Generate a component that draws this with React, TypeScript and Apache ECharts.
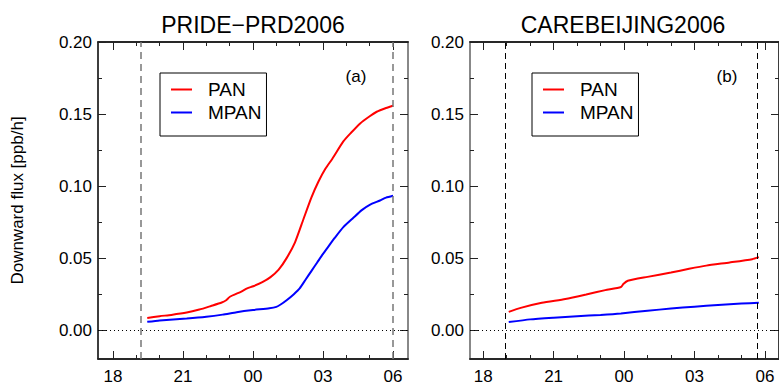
import React, { useEffect, useRef } from "react";
import * as echarts from "echarts";

// Hour-of-day ticks (values past 24 wrap to the next morning)
const hourMajor = [18, 21, 24, 27, 30];
const hourMinor = [19, 20, 22, 23, 25, 26, 28, 29];
const fluxMajor = [0, 0.05, 0.1, 0.15, 0.2];
const fluxMinor = [0.025, 0.075, 0.125, 0.175];

// PRIDE-PRD2006 night-time downward flux
const prdPanHours = [19.47, 20.0, 20.5, 21.16, 21.7, 22.2, 22.66, 22.85, 23.01, 23.5, 23.75, 24.01, 24.4, 24.75, 25.1, 25.44, 25.8, 26.16, 26.5, 26.8, 27.1, 27.4, 27.87, 28.2, 28.59, 29.0, 29.3, 29.7, 30.0];
const prdPanFlux = [0.0085, 0.0097, 0.0106, 0.0122, 0.0143, 0.0168, 0.0192, 0.0208, 0.0232, 0.0268, 0.029, 0.0305, 0.0333, 0.0368, 0.042, 0.05, 0.061, 0.077, 0.092, 0.103, 0.112, 0.119, 0.131, 0.137, 0.1435, 0.1485, 0.1516, 0.1542, 0.1558];
const prdMpanHours = [19.47, 20.0, 21.16, 22.0, 22.7, 23.3, 24.0, 24.7, 25.0, 25.2, 25.44, 25.75, 26.0, 26.25, 26.5, 26.75, 27.0, 27.25, 27.5, 27.87, 28.3, 28.66, 29.0, 29.44, 29.7, 30.0];
const prdMpanFlux = [0.0058, 0.0068, 0.0081, 0.0093, 0.0108, 0.0125, 0.014, 0.0152, 0.0162, 0.018, 0.0208, 0.025, 0.029, 0.035, 0.041, 0.047, 0.053, 0.0585, 0.064, 0.0715, 0.078, 0.0833, 0.087, 0.09, 0.092, 0.0933];

// CAREBEIJING2006 night-time downward flux
const bjPanHours = [19.09, 19.6, 20.5, 21.5, 22.39, 23.2, 23.87, 23.97, 24.16, 25.0, 26.0, 26.77, 27.5, 28.5, 29.46, 29.74];
const bjPanFlux = [0.0127, 0.0155, 0.019, 0.0217, 0.0248, 0.0278, 0.03, 0.032, 0.0343, 0.037, 0.04, 0.0426, 0.0448, 0.047, 0.0493, 0.0507];
const bjMpanHours = [19.09, 20.0, 21.0, 22.0, 23.0, 23.87, 25.0, 26.0, 27.0, 28.0, 29.0, 29.74];
const bjMpanFlux = [0.0056, 0.0075, 0.0087, 0.0097, 0.0106, 0.0116, 0.0135, 0.015, 0.0163, 0.0175, 0.0185, 0.019];

// Nighttime window boundaries drawn as dashed verticals
const prdNight = [19.2, 30.0];
const bjNight = [18.92, 29.67];

const FONT = "'Liberation Sans', Arial, Helvetica, sans-serif";

const zip = (xs: number[], ys: number[]) => xs.map((x, i) => [x, ys[i]]);
const hourLabel = (v: number) => String(((Math.round(v) % 24) + 24) % 24).padStart(2, "0");

export default function App() {
  const ref = useRef<HTMLDivElement>(null);

  useEffect(() => {
    if (!ref.current) return;
    const chart = echarts.init(ref.current, undefined, { renderer: "svg" });

    const panels = [
      { left: 98, top: 42, width: 310, height: 317, xMin: 17.36, xMax: 30.64, leftColor: "#222", leftWidth: 1.5, rightColor: "#888", rightWidth: 2 },
      { left: 470, top: 42, width: 310, height: 317, xMin: 17.44, xMax: 30.6, leftColor: "#888", leftWidth: 2, rightColor: "#222", rightWidth: 1.5 },
    ];

    // Grids 0/1 carry the framed axes with major ticks; grids 2/3 overlay them with minor ticks only.
    const grid = [
      ...panels.map((p) => ({ left: p.left, top: p.top, width: p.width, height: p.height, show: true, borderColor: "#222", borderWidth: 1, backgroundColor: "transparent" })),
      ...panels.map((p) => ({ left: p.left, top: p.top, width: p.width, height: p.height })),
    ];

    const tick = (vals: number[], len: number) => ({
      show: true, inside: true, length: len, customValues: vals, lineStyle: { color: "#222", width: 1 },
    });
    const line = (show: boolean, color = "#222", width = 1.5) => ({ show, onZero: false, lineStyle: { color, width } });
    const noLabel = { show: false };

    const xAxis: any[] = [];
    const yAxis: any[] = [];
    panels.forEach((p, gi) => {
      const base = { type: "value", gridIndex: gi, min: p.xMin, max: p.xMax, splitLine: { show: false } };
      xAxis.push({
        ...base, position: "bottom", axisLine: line(true), axisTick: tick(hourMajor, 8),
        axisLabel: { show: true, customValues: hourMajor, formatter: hourLabel, margin: 9, color: "#000", fontSize: 17, fontFamily: FONT },
      });
      xAxis.push({ ...base, position: "top", axisLine: line(true), axisTick: tick(hourMajor, 8), axisLabel: noLabel });

      const ybase = { type: "value", gridIndex: gi, min: -0.02, max: 0.2, splitLine: { show: false } };
      yAxis.push({
        ...ybase, position: "left", axisLine: line(true, p.leftColor, p.leftWidth), axisTick: tick(fluxMajor, 8),
        axisLabel: { show: true, customValues: fluxMajor, formatter: (v: number) => v.toFixed(2), margin: 6, color: "#000", fontSize: 17, fontFamily: FONT },
        ...(gi === 0
          ? { name: "Downward flux [ppb/h]", nameLocation: "middle", nameRotate: 90, nameGap: 72, nameTextStyle: { fontSize: 17, fontFamily: FONT, color: "#000" } }
          : {}),
      });
      yAxis.push({ ...ybase, position: "right", axisLine: line(true, p.rightColor, p.rightWidth), axisTick: tick(fluxMajor, 8), axisLabel: noLabel });
    });
    panels.forEach((p, gi) => {
      const base = { type: "value", gridIndex: gi + 2, min: p.xMin, max: p.xMax, splitLine: { show: false } };
      xAxis.push({ ...base, position: "bottom", axisLine: line(true), axisTick: tick(hourMinor, 4), axisLabel: noLabel });
      xAxis.push({ ...base, position: "top", axisLine: line(true), axisTick: tick(hourMinor, 4), axisLabel: noLabel });
      const ybase = { type: "value", gridIndex: gi + 2, min: -0.02, max: 0.2, splitLine: { show: false } };
      yAxis.push({ ...ybase, position: "left", axisLine: line(false), axisTick: tick(fluxMinor, 4), axisLabel: noLabel });
      yAxis.push({ ...ybase, position: "right", axisLine: line(false), axisTick: tick(fluxMinor, 4), axisLabel: noLabel });
    });

    const zeroLine = { yAxis: 0, lineStyle: { type: [1, 3], color: "#000", width: 1 } };
    const nightLines = (vals: number[], color: string, dash: number[], width: number) =>
      vals.map((v) => ({ xAxis: v, lineStyle: { type: dash, color, width } }));

    const lineSeries = (name: string, gi: number, data: number[][], color: string, extra: any = {}) => ({
      name, type: "line", xAxisIndex: gi * 2, yAxisIndex: gi * 2, data,
      showSymbol: false, symbol: "none", smooth: 0.2, color,
      lineStyle: { color, width: 2 }, itemStyle: { color },
      ...extra,
    });

    const markLineFor = (vals: number[], color: string, dash: number[], width: number) => ({
      markLine: {
        silent: true, symbol: "none", label: { show: false },
        data: [zeroLine, ...nightLines(vals, color, dash, width)],
      },
    });

    const legendBase = {
      orient: "vertical", top: 73, data: ["PAN", "MPAN"],
      icon: "rect", itemWidth: 21, itemHeight: 2, itemGap: 4,
      borderColor: "#000", borderWidth: 1, padding: [7, 5, 14, 11],
      textStyle: { fontSize: 19, fontFamily: FONT, color: "#000", lineHeight: 19, padding: [0, 0, 0, 11] },
      selectedMode: false,
    };

    chart.setOption({
      animation: false,
      backgroundColor: "#fff",
      grid,
      xAxis, yAxis,
      legend: [
        { ...legendBase, left: 160 },
        { ...legendBase, left: 532 },
      ],
      series: [
        lineSeries("PAN", 0, zip(prdPanHours, prdPanFlux), "#ff0000", markLineFor(prdNight, "#777", [7, 5], 1.5)),
        lineSeries("MPAN", 0, zip(prdMpanHours, prdMpanFlux), "#0000ff"),
        lineSeries("PAN", 1, zip(bjPanHours, bjPanFlux), "#ff0000", markLineFor(bjNight, "#000", [6, 4], 1)),
        lineSeries("MPAN", 1, zip(bjMpanHours, bjMpanFlux), "#0000ff"),
      ],
      graphic: [
        { type: "text", x: 253, y: 25, style: { text: "PRIDE\u2212PRD2006", fontSize: 23, fontFamily: FONT, fill: "#000", textAlign: "center", textVerticalAlign: "middle" } },
        { type: "text", x: 623, y: 25, style: { text: "CAREBEIJING2006", fontSize: 23, fontFamily: FONT, fill: "#000", textAlign: "center", textVerticalAlign: "middle" } },
        { type: "text", x: 356, y: 76, style: { text: "(a)", fontSize: 17, fontFamily: FONT, fill: "#000", textAlign: "center", textVerticalAlign: "middle" } },
        { type: "text", x: 727, y: 76, style: { text: "(b)", fontSize: 17, fontFamily: FONT, fill: "#000", textAlign: "center", textVerticalAlign: "middle" } },
      ],
    });

    return () => chart.dispose();
  }, []);

  return <div ref={ref} style={{ position: "absolute", left: 0, top: 0, width: 779, height: 387 }} />;
}
